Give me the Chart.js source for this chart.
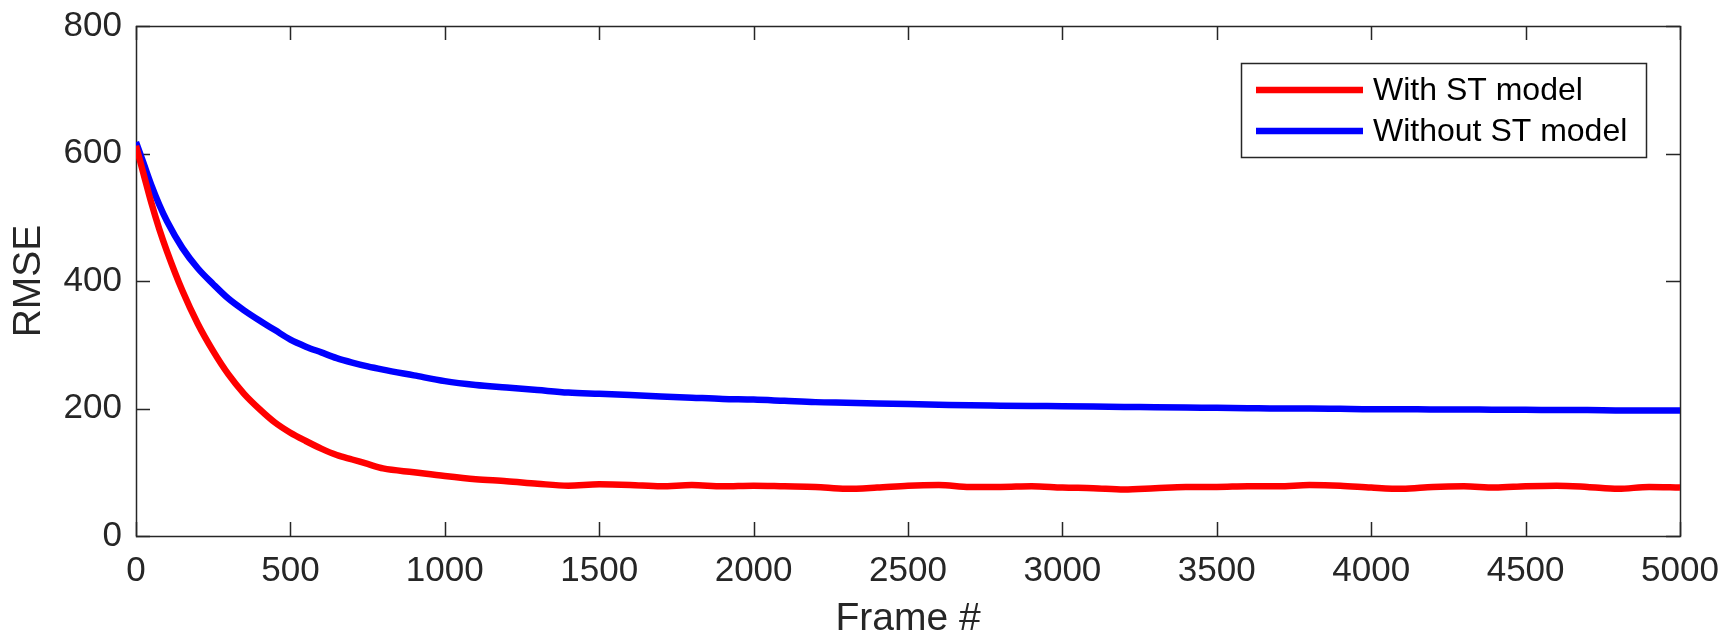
<!DOCTYPE html>
<html>
<head>
<meta charset="utf-8">
<script src="https://cdn.jsdelivr.net/npm/chart.js@4.4.1/dist/chart.umd.min.js"></script>
<style>
  html, body { margin: 0; padding: 0; background: #fff; }
  #wrap { width: 1731px; height: 642px; position: relative; }
</style>
</head>
<body>
<div id="wrap"><canvas id="rmseChart"></canvas></div>
<script>
const frames = [0, 25, 50, 75, 100, 150, 200, 250, 300, 350, 400, 450, 500, 550, 600, 650, 700, 750, 800, 900,
  1000, 1100, 1200, 1300, 1400, 1500, 1600, 1700, 1800, 1900, 2000, 2100, 2200, 2300, 2400, 2500, 2600, 2700, 2800, 2900,
  3000, 3100, 3200, 3300, 3400, 3500, 3600, 3700, 3800, 3900, 4000, 4100, 4200, 4300, 4400, 4500, 4600, 4700, 4800, 4900, 5000];

const withST = [612, 567, 522, 482, 447, 385, 333, 290, 253, 223, 199, 178, 162, 149, 137, 127, 120, 113, 106, 100,
  94, 89, 86, 82, 79, 81, 80, 78, 80, 78, 79, 78, 77, 74, 76, 79, 80, 77, 77, 78,
  76, 75, 73, 75, 77, 77, 78, 78, 80, 79, 76, 74, 77, 78, 76, 78, 79, 77, 74, 77, 76];

const withoutST = [618, 584, 550, 520, 494, 452, 420, 395, 372, 354, 338, 323, 308, 297, 288, 279, 272, 266, 261, 252,
  243, 237, 233, 229, 225, 223, 221, 219, 217, 215, 214, 212, 210, 209, 208, 207, 206, 205, 204.5, 204,
  203.5, 203, 202.5, 202, 201.5, 201, 200.5, 200, 200, 199.5, 199, 199, 198.5, 198.5, 198, 198, 197.5, 197.5, 197, 197, 197];

const seriesNames = ['With ST model', 'Without ST model'];
const seriesColors = ['#ff0000', '#0000ff'];

const axisColor = '#262626';
const fontFamily = '"Liberation Sans", Arial, Helvetica, sans-serif';

function toPoints(values) {
  return frames.map(function(f, i) { return { x: f, y: values[i] }; });
}

// matlab style box with inward ticks on all four sides, plus the boxed legend
const boxPlugin = {
  id: 'boxPlugin',
  beforeDatasetsDraw(chart) {
    const ctx = chart.ctx;
    const a = chart.chartArea;
    const xs = chart.scales.x, ys = chart.scales.y;
    const tl = 14;
    ctx.save();
    ctx.strokeStyle = axisColor;
    ctx.lineWidth = 1.5;
    ctx.beginPath();
    xs.ticks.forEach(function(t) {
      const px = Math.round(xs.getPixelForValue(t.value)) + 0.5;
      ctx.moveTo(px, a.bottom); ctx.lineTo(px, a.bottom - tl);
      ctx.moveTo(px, a.top); ctx.lineTo(px, a.top + tl);
    });
    ys.ticks.forEach(function(t) {
      const py = Math.round(ys.getPixelForValue(t.value)) + 0.5;
      ctx.moveTo(a.left, py); ctx.lineTo(a.left + tl, py);
      ctx.moveTo(a.right, py); ctx.lineTo(a.right - tl, py);
    });
    ctx.stroke();
    ctx.strokeRect(Math.round(a.left) + 0.5, Math.round(a.top) + 0.5,
      Math.round(a.right - a.left), Math.round(a.bottom - a.top));
    ctx.restore();
  },
  afterDraw(chart) {
    const ctx = chart.ctx;
    const a = chart.chartArea;
    const bw = 405, bh = 94;
    const bx = a.right - 34 - bw, by = a.top + 37;
    ctx.save();
    ctx.fillStyle = '#fff';
    ctx.fillRect(bx, by, bw, bh);
    ctx.strokeStyle = axisColor;
    ctx.lineWidth = 1.5;
    ctx.strokeRect(bx + 0.5, by + 0.5, bw, bh);
    ctx.font = '32px ' + fontFamily;
    ctx.textBaseline = 'middle';
    chart.data.datasets.forEach(function(ds, i) {
      const ly = by + 27 + i * 41;
      ctx.strokeStyle = ds.borderColor;
      ctx.lineWidth = 6.5;
      ctx.beginPath();
      ctx.moveTo(bx + 15, ly); ctx.lineTo(bx + 122, ly);
      ctx.stroke();
      ctx.fillStyle = '#000';
      ctx.fillText(ds.label, bx + 132, ly + 1);
    });
    ctx.restore();
  }
};

const ctx = document.getElementById('rmseChart').getContext('2d');

const rmseChart = new Chart(ctx, {
  type: 'line',
  data: {
    datasets: [{
      label: seriesNames[0],
      data: toPoints(withST),
      borderColor: seriesColors[0],
      borderWidth: 6.5,
      pointRadius: 0,
      cubicInterpolationMode: 'monotone',
      fill: false
    }, {
      label: seriesNames[1],
      data: toPoints(withoutST),
      borderColor: seriesColors[1],
      borderWidth: 6.5,
      pointRadius: 0,
      cubicInterpolationMode: 'monotone',
      fill: false
    }]
  },
  options: {
    responsive: true,
    maintainAspectRatio: false,
    animation: false,
    layout: { padding: { top: 26, right: 51, bottom: 0, left: 0 } },
    plugins: {
      legend: { display: false },
      tooltip: { enabled: false }
    },
    scales: {
      x: {
        type: 'linear',
        min: 0,
        max: 5000,
        grid: { display: false, drawTicks: false },
        border: { display: false },
        ticks: {
          stepSize: 500,
          padding: 14,
          maxRotation: 0,
          color: axisColor,
          font: { family: fontFamily, size: 35 },
          callback: function(v) { return String(v); }
        },
        title: {
          display: true,
          text: 'Frame #',
          color: axisColor,
          font: { family: fontFamily, size: 39, lineHeight: 1 },
          padding: { top: 0, bottom: 3 }
        },
        afterFit(scale) {
          scale.height = 106;
          scale.paddingLeft = 0;
          scale.paddingRight = 0;
        }
      },
      y: {
        min: 0,
        max: 800,
        grid: { display: false, drawTicks: false },
        border: { display: false },
        ticks: {
          stepSize: 200,
          padding: 14,
          color: axisColor,
          font: { family: fontFamily, size: 35 }
        },
        title: {
          display: true,
          text: 'RMSE',
          color: axisColor,
          font: { family: fontFamily, size: 39, lineHeight: 1 },
          padding: { top: 10, bottom: 0 }
        },
        afterFit(scale) {
          scale.width = 136;
          scale.paddingTop = 0;
          scale.paddingBottom = 0;
        }
      }
    }
  },
  plugins: [boxPlugin]
});
</script>
</body>
</html>
